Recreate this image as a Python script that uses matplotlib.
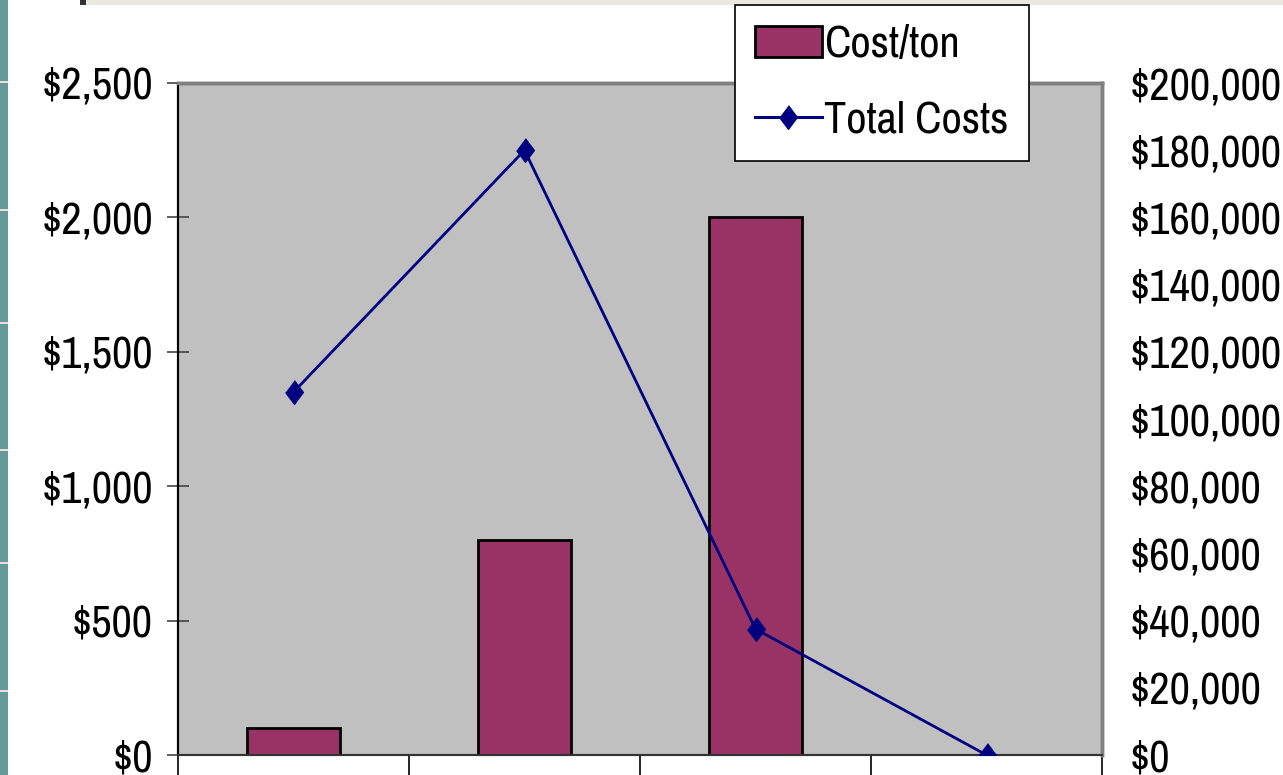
import matplotlib
matplotlib.use("Agg")
import matplotlib.pyplot as plt
from matplotlib.patches import Rectangle, Patch
from matplotlib.lines import Line2D
from matplotlib.ticker import FuncFormatter

# Data
categories = ["A", "B", "C", "D"]
cost_per_ton = [100, 800, 2000, 0]
total_costs = [108000, 180000, 37500, 0]

plt.rcParams["font.family"] = ["Archivo Narrow", "Liberation Sans", "DejaVu Sans"]
fs = 32

fig = plt.figure(figsize=(12.83, 7.75), dpi=100)
fig.patch.set_facecolor("white")

# slide decoration: teal strip at left, beige strip at top
fig.patches.append(Rectangle((0, 0), 8 / 1283, 1, transform=fig.transFigure,
                             facecolor="#66999a", edgecolor="none", zorder=0))
for yy in [82, 210, 323, 450, 563, 691]:
    fig.patches.append(Rectangle((0, 1 - (yy + 1) / 775), 8 / 1283, 2 / 775,
                                 transform=fig.transFigure, facecolor="#e8e4da",
                                 edgecolor="none", zorder=1))
fig.patches.append(Rectangle((86 / 1283, 1 - 5 / 775), 1, 5 / 775, transform=fig.transFigure,
                             facecolor="#ebe8e0", edgecolor="none", zorder=0))
fig.patches.append(Rectangle((80 / 1283, 1 - 5 / 775), 6 / 1283, 5 / 775, transform=fig.transFigure,
                             facecolor="#333333", edgecolor="none", zorder=0))

ax = fig.add_axes([178 / 1283, 20 / 775, 924 / 1283, 672 / 775])
ax.set_facecolor("#c0c0c0")

x = list(range(len(categories)))
ax.bar(x, cost_per_ton, width=0.4, color="#993366", edgecolor="black", linewidth=2, zorder=3)
ax.set_xlim(-0.5, 3.5)
ax.set_ylim(0, 2500)
ax.set_yticks([0, 500, 1000, 1500, 2000, 2500])
ax.yaxis.set_major_formatter(FuncFormatter(lambda v, p: "${:,.0f}".format(v)))
ax.set_xticks([-0.5, 0.5, 1.5, 2.5, 3.5])
ax.set_xticklabels([])
ax.tick_params(axis="y", direction="inout", length=16, width=1.2, color="#444444",
               labelsize=fs, pad=10)
ax.tick_params(axis="x", direction="out", length=15, width=1.2, color="black")

diamond = [(0, 1), (0.75, 0), (0, -1), (-0.75, 0)]
ax2 = ax.twinx()
ax2.plot(x, total_costs, color="#000080", linewidth=2.0,
         marker=diamond, markersize=17,
         markerfacecolor="#000080", markeredgecolor="#000080", zorder=4)
ax2.set_ylim(0, 200000)
ax2.set_yticks(range(0, 200001, 20000))
ax2.yaxis.set_major_formatter(FuncFormatter(lambda v, p: "${:,.0f}".format(v)))
ax2.tick_params(axis="y", length=0, labelsize=fs, pad=20)

for a in [ax, ax2]:
    a.spines["top"].set_color("#808080")
    a.spines["top"].set_linewidth(2.5)
    a.spines["right"].set_color("#808080")
    a.spines["right"].set_linewidth(2.5)
    a.spines["left"].set_color("black")
    a.spines["left"].set_linewidth(1.5)
    a.spines["bottom"].set_color("#333333")
    a.spines["bottom"].set_linewidth(1.5)

handles = [Patch(facecolor="#993366", edgecolor="black", linewidth=2),
           Line2D([0], [0], color="#000080", linewidth=2.2,
                  marker=diamond, markersize=17)]
leg = fig.legend(handles, ["Cost/ton", "Total Costs"], loc="upper left",
                 bbox_to_anchor=(735 / 1283, 1 - 5 / 775), borderaxespad=0,
                 fontsize=fs, frameon=True, fancybox=False, edgecolor="black",
                 framealpha=1, handlelength=1.5, handletextpad=0.06,
                 borderpad=0.45, labelspacing=0.8)
leg.get_frame().set_linewidth(1.2)
leg.set_zorder(10)

fig.savefig("out.png", dpi=100)
